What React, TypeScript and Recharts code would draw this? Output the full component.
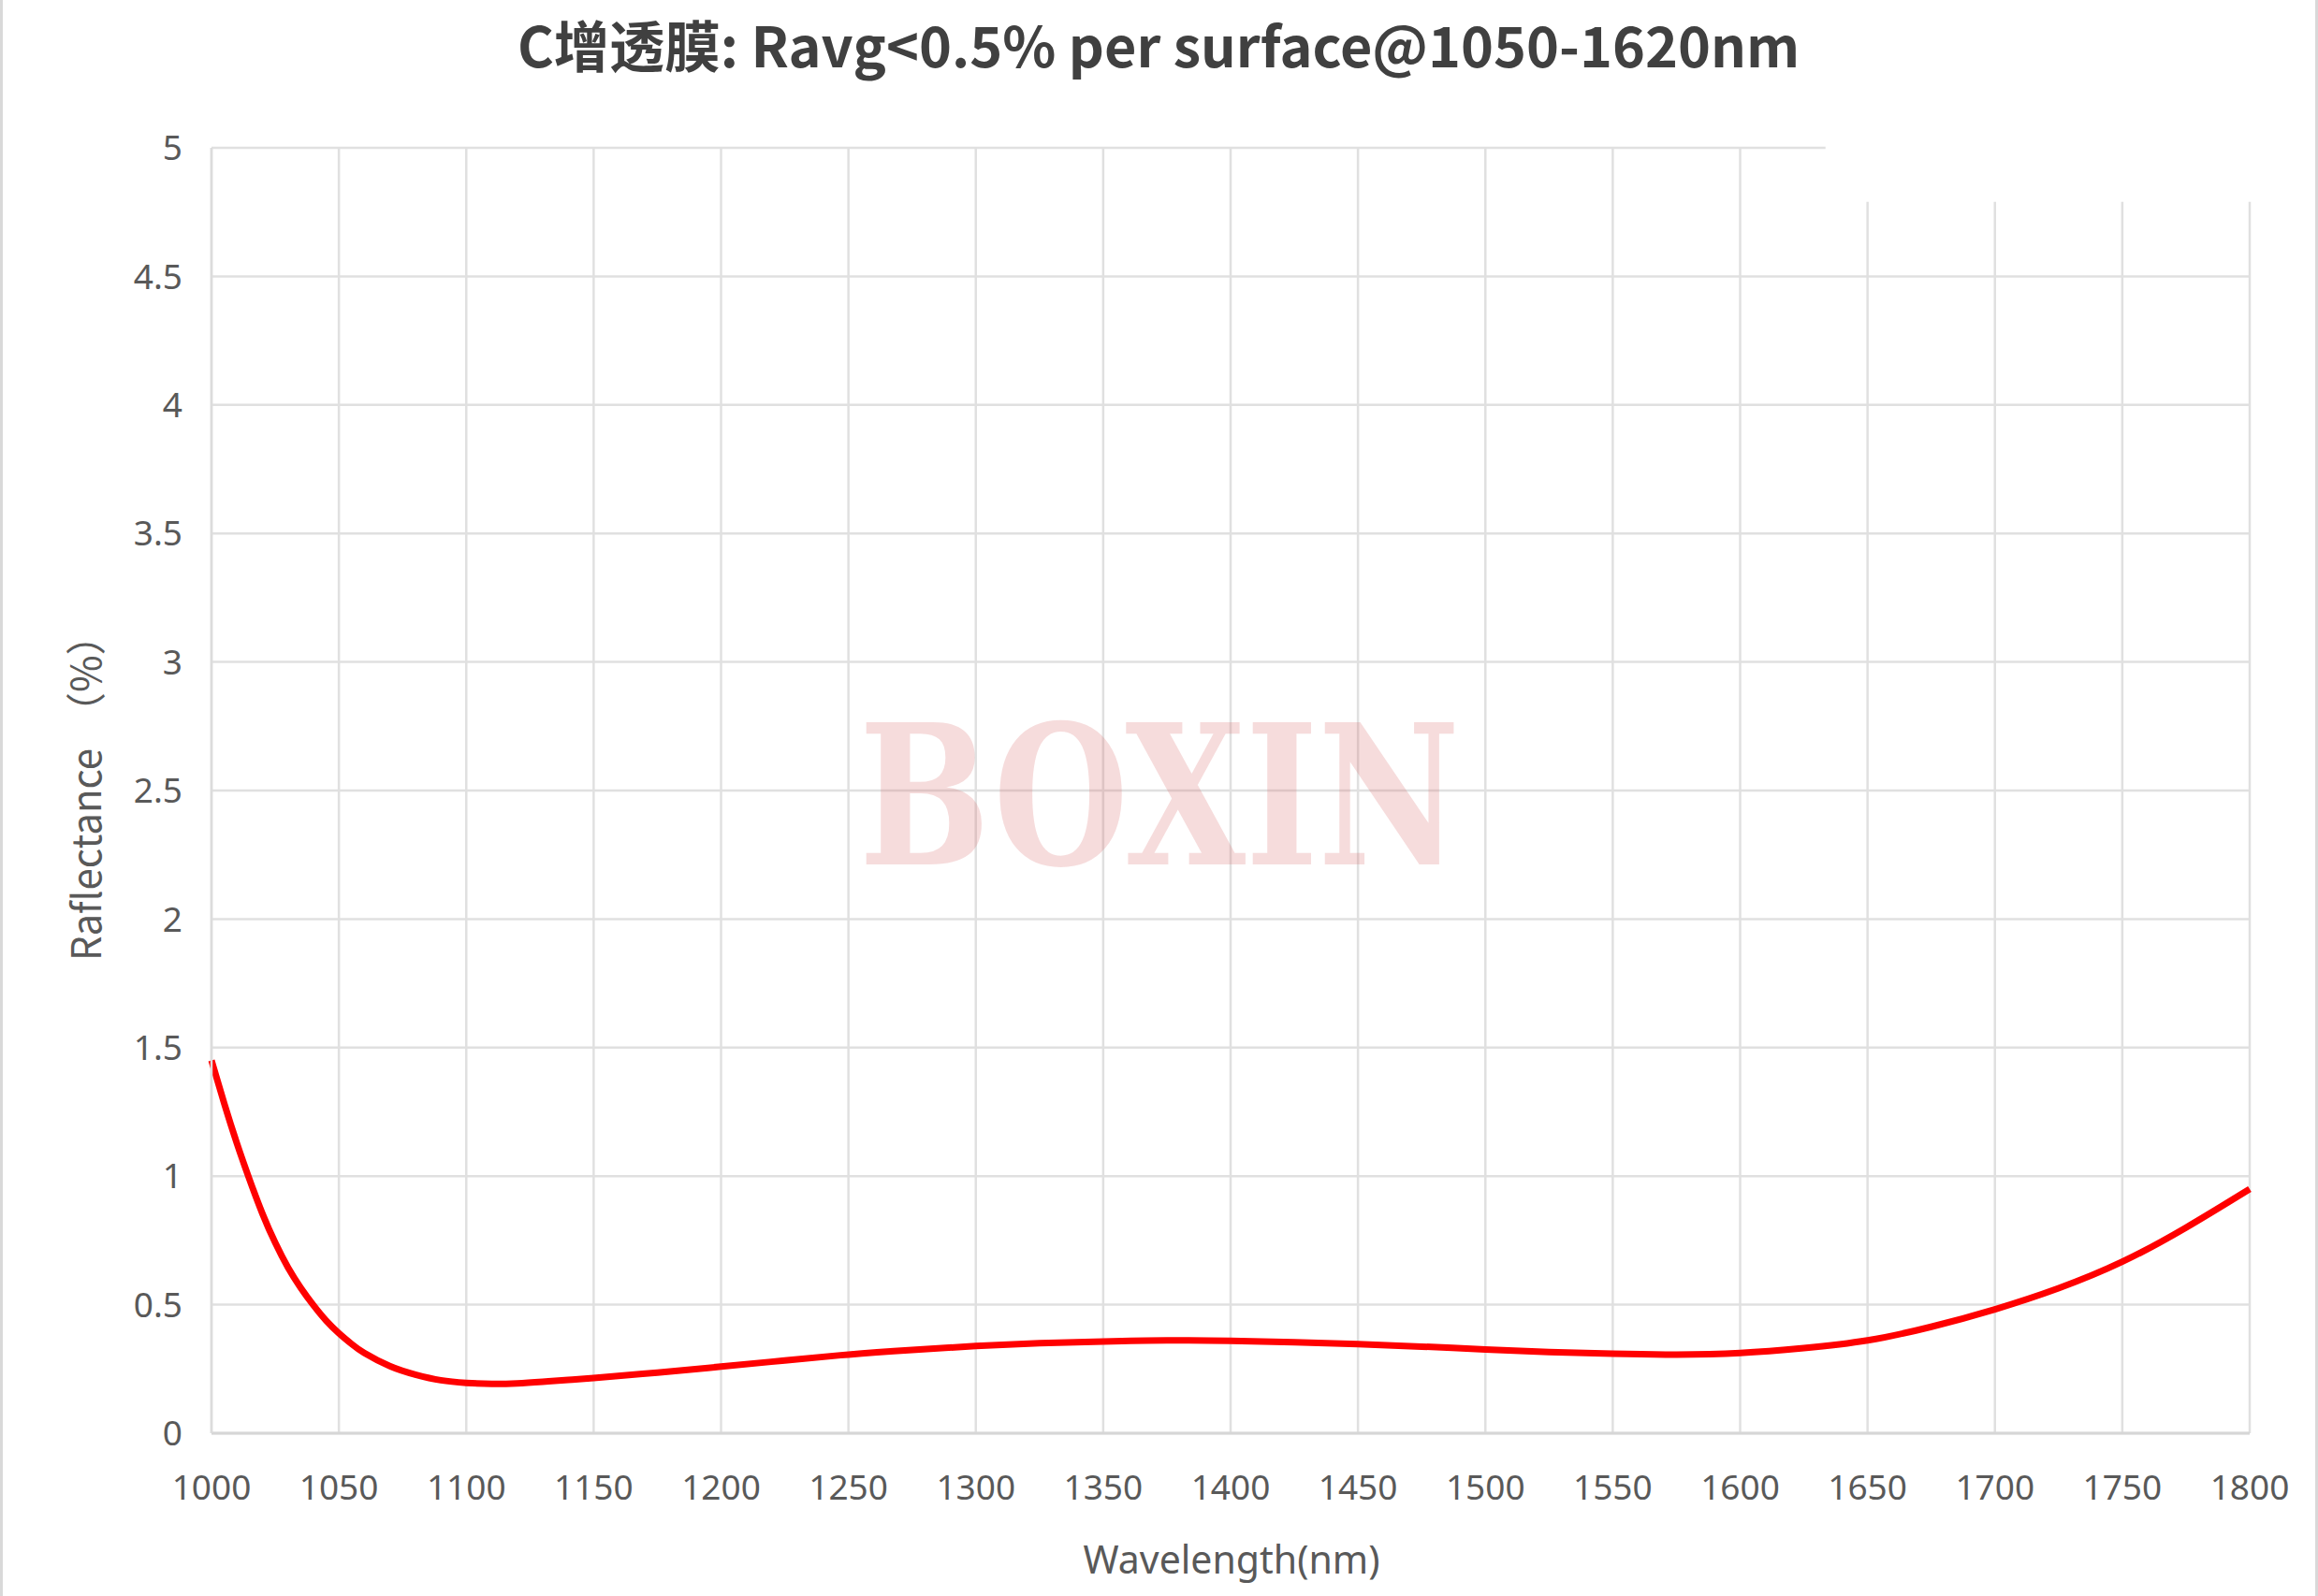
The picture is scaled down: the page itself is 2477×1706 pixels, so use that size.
import React from "react";
import { LineChart, Line, XAxis, YAxis, CartesianGrid, ReferenceArea } from "recharts";

const wavelengths = [
  1000, 1005, 1010, 1015, 1020, 1025, 1030, 1035, 1040, 1045, 1050, 1055, 1060, 1070, 1080, 1090,
  1100, 1110, 1120, 1130, 1140, 1150, 1175, 1200, 1225, 1250, 1275, 1300, 1325, 1350, 1375, 1400,
  1425, 1450, 1475, 1500, 1525, 1550, 1575, 1600, 1625, 1650, 1675, 1700, 1725, 1750, 1775, 1800,
];
const reflectance = [
  1.45, 1.283, 1.127, 0.985, 0.854, 0.741, 0.645, 0.566, 0.498, 0.438, 0.389, 0.347, 0.312, 0.261, 0.228, 0.206,
  0.196, 0.192, 0.194, 0.2, 0.207, 0.215, 0.236, 0.259, 0.283, 0.306, 0.324, 0.339, 0.35, 0.357, 0.361, 0.359,
  0.354, 0.347, 0.337, 0.326, 0.316, 0.309, 0.306, 0.312, 0.331, 0.361, 0.414, 0.482, 0.564, 0.667, 0.8, 0.95,
];
const xTicks = [1000, 1050, 1100, 1150, 1200, 1250, 1300, 1350, 1400, 1450, 1500, 1550, 1600, 1650, 1700, 1750, 1800];
const yTicks = [0, 0.5, 1, 1.5, 2, 2.5, 3, 3.5, 4, 4.5, 5];

const titleText = "C增透膜: Ravg<0.5% per surface@1050-1620nm";
const xLabel = "Wavelength(nm)";
const yLabelMain = "Raflectance";
const yLabelUnit = "（%）";
const watermark = "BOXIN";

const data = wavelengths.map((wl, i) => ({ wl, r: reflectance[i] }));

const W = 2477;
const H = 1706;
const tickFont = "'Noto Sans', 'Noto Sans CJK SC', sans-serif";
const cjkFont = "'Noto Sans CJK SC', 'Noto Sans', sans-serif";

export default function App() {
  return (
    <div
      style={{
        position: "relative",
        width: W,
        height: H,
        background: "#fff",
        boxSizing: "border-box",
      }}
    >
      <style>{"body{margin:0;background:#fff}"}</style>
      <LineChart width={W} height={H} data={data} margin={{ top: 158, right: 73, bottom: 74, left: 100 }}>
        <CartesianGrid stroke="#e0e0e0" strokeWidth={2.5} />
        <XAxis
          dataKey="wl"
          type="number"
          domain={[1000, 1800]}
          ticks={xTicks}
          interval={0}
          height={100}
          tickSize={0}
          tickMargin={45}
          axisLine={{ stroke: "#d6d6d6", strokeWidth: 3 }}
          tickLine={false}
          tick={{ fill: "#595959", fontSize: 37, fontFamily: tickFont }}
        />
        <YAxis
          type="number"
          domain={[0, 5]}
          ticks={yTicks}
          interval={0}
          width={126}
          tickSize={0}
          tickMargin={31}
          axisLine={{ stroke: "#dcdcdc", strokeWidth: 2.5 }}
          tickLine={false}
          tick={{ fill: "#595959", fontSize: 37, fontFamily: tickFont }}
        />
        <ReferenceArea
          x1={1633.5}
          x2={1812}
          y1={4.79}
          y2={5.1}
          fill="#ffffff"
          fillOpacity={1}
          stroke="none"
          ifOverflow="visible"
        />
        <Line
          type="natural"
          dataKey="r"
          stroke="#ff0000"
          strokeWidth={7}
          dot={false}
          activeDot={false}
          isAnimationActive={false}
        />
      </LineChart>
      <svg
        width={W}
        height={H}
        style={{ position: "absolute", left: 0, top: 0, pointerEvents: "none" }}
      >
        <text
          x={1238}
          y={72}
          textAnchor="middle"
          fontFamily={cjkFont}
          fontWeight={700}
          fontSize={59.3}
          fill="#404040"
        >
          {titleText}
        </text>
        <text
          x={1316}
          y={1682}
          textAnchor="middle"
          fontFamily={tickFont}
          fontSize={41}
          fill="#595959"
        >
          {xLabel}
        </text>
        <g transform="translate(108 1027) rotate(-90)">
          <text
            x={0}
            y={0}
            textLength={227}
            lengthAdjust="spacingAndGlyphs"
            fontFamily={cjkFont}
            fontSize={43}
            fill="#595959"
          >
            {yLabelMain}
          </text>
          <text
            x={244}
            y={0}
            fontFamily={cjkFont}
            fontSize={43}
            fill="#595959"
          >
            {yLabelUnit}
          </text>
        </g>
        <text
          x={918}
          y={924}
          textLength={642}
          lengthAdjust="spacingAndGlyphs"
          fontFamily="'DejaVu Serif Condensed', 'DejaVu Serif', serif"
          fontWeight={700}
          fontSize={207}
          fill="#d75f5f"
          fillOpacity={0.22}
        >
          {watermark}
        </text>
        <rect x={0} y={0} width={3} height={H} fill="#d9d9d9" />
        <rect x={W - 3} y={0} width={3} height={H} fill="#d9d9d9" />
      </svg>
    </div>
  );
}
